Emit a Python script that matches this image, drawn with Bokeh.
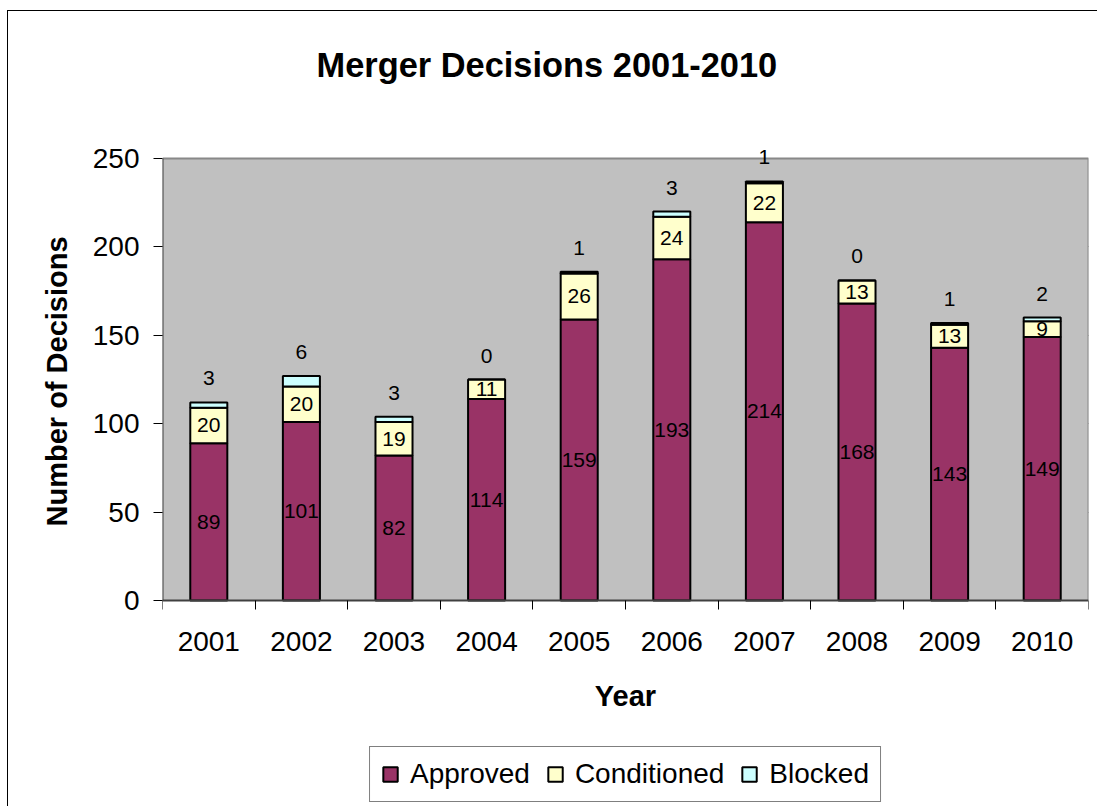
from bokeh.plotting import figure
from bokeh.models import ColumnDataSource, FixedTicker, LabelSet, Legend, Title
from bokeh.core.properties import value
from bokeh.embed import file_html
from bokeh.resources import INLINE

years = ["2001", "2002", "2003", "2004", "2005", "2006", "2007", "2008", "2009", "2010"]
approved = [89, 101, 82, 114, 159, 193, 214, 168, 143, 149]
conditioned = [20, 20, 19, 11, 26, 24, 22, 13, 13, 9]
blocked = [3, 6, 3, 0, 1, 3, 1, 0, 1, 2]
series = ["Approved", "Conditioned", "Blocked"]
colors = ["#993366", "#FFFFCC", "#CCFFFF"]
y_ticks = [0, 50, 100, 150, 200, 250]

FONT = "Liberation Sans"
n = len(years)
y_max = y_ticks[-1]
# the frame reaches above the value axis (room for the top data label) and down to the
# bottom of the page (room for the x axis texts and the legend)
y_top = y_max * 456 / 442
y_bottom = -y_max * 206 / 442

x = [i + 0.5 for i in range(n)]

p = figure(frame_width=926, frame_height=662, x_range=(0, n), y_range=(y_bottom, y_top),
           output_backend="svg", toolbar_location=None,
           min_border_left=154, min_border_right=9, min_border_top=133, min_border_bottom=0,
           background_fill_color="white", border_fill_color="white",
           outline_line_color=None)
p.margin = (11, 0, 0, 8)
p.styles = {"outline": "1.5px solid #000000"}

# spacer between frame and title, then the title (outermost)
p.add_layout(Title(text=" ", text_font_size="2px", standoff=52, text_color="white"), "above")
p.add_layout(Title(text="Merger Decisions 2001-2010", align="left", offset=154, standoff=10,
                   text_font_size="34.4px", text_font_style="bold", text_font=FONT,
                   text_color="black"), "above")

# plot area background and border
p.quad(left=[0], right=[n], bottom=[0], top=[y_max], fill_color="#C0C0C0", line_color=None)
p.line(x=[0, n, n], y=[y_max, y_max, 0], line_color="#888888", line_width=2)

p.xgrid.visible = False
p.ygrid.ticker = FixedTicker(ticks=y_ticks[1:-1])
p.ygrid.grid_line_color = "black"
p.ygrid.grid_line_width = 1

p.line(x=[0, 0], y=[0, y_max], line_color="#404040", line_width=2)

src = ColumnDataSource(dict(x=x, Approved=approved, Conditioned=conditioned, Blocked=blocked))
rs = p.vbar_stack(series, x="x", width=0.4, fill_color=colors, line_color="black",
                  line_width=2, source=src)

# labels
app_y = [a / 2 for a in approved]
cond_y = [a + c / 2 for a, c in zip(approved, conditioned)]
tot_y = [a + c + b for a, c, b in zip(approved, conditioned, blocked)]
lab_src = ColumnDataSource(dict(
    x=x, app_y=app_y, cond_y=cond_y, tot_y=tot_y,
    app_t=[str(v) for v in approved],
    cond_t=[str(v) for v in conditioned],
    blk_t=[str(v) for v in blocked],
))
for ycol, tcol, yoff in [("app_y", "app_t", 0), ("cond_y", "cond_t", 0), ("tot_y", "blk_t", 24)]:
    ls = LabelSet(x="x", y=ycol, text=tcol, source=lab_src, text_align="center",
                  text_baseline="middle", y_offset=yoff, text_font=value(FONT),
                  text_font_size="21px", text_color="black")
    p.add_layout(ls)

# x axis drawn at value 0
p.xaxis.fixed_location = 0
p.xaxis.ticker = FixedTicker(ticks=x, minor_ticks=list(range(n + 1)))
p.xaxis.major_label_overrides = {xi: yr for xi, yr in zip(x, years)}
p.xaxis.major_tick_line_color = None
p.xaxis.major_tick_out = 0
p.xaxis.minor_tick_in = 0
p.xaxis.minor_tick_out = 9
p.xaxis.minor_tick_line_color = "black"
p.xaxis.major_label_standoff = 22
p.xaxis.axis_label = "Year"
p.xaxis.axis_line_color = "#404040"
p.xaxis.axis_line_width = 2
p.xaxis.axis_label_standoff = 26

p.yaxis.ticker = FixedTicker(ticks=y_ticks)
p.yaxis.minor_tick_line_color = None
p.yaxis.major_tick_in = 0
p.yaxis.major_tick_out = 9
p.yaxis.major_tick_line_color = "black"
p.yaxis.major_label_standoff = 14
p.yaxis.axis_line_color = None

for ax in (p.xaxis, p.yaxis):
    ax.major_label_text_font = FONT
    ax.major_label_text_font_size = "28px"
    ax.major_label_text_color = "black"
    ax.axis_label_text_font = FONT
    ax.axis_label_text_font_size = "29px"
    ax.axis_label_text_font_style = "bold"
    ax.axis_label_text_color = "black"

# y axis title, placed beside the value range 0-250
p.add_layout(Title(text="Number of Decisions", align="left", offset=280, standoff=34,
                   text_font_size="29px", text_font_style="bold", text_font=FONT,
                   text_color="black"), "left")

legend = Legend(items=[(s, [r]) for s, r in zip(series, rs)], orientation="horizontal",
                location="bottom_center", label_text_font=FONT, label_text_font_size="28px",
                label_text_color="black",
                glyph_width=18, glyph_height=18, label_standoff=11, spacing=16, padding=11,
                border_line_color="black", border_line_width=1, background_fill_color="white",
                background_fill_alpha=1, margin=4)
p.add_layout(legend, "center")

open("out.html", "w").write(file_html(p, INLINE))
